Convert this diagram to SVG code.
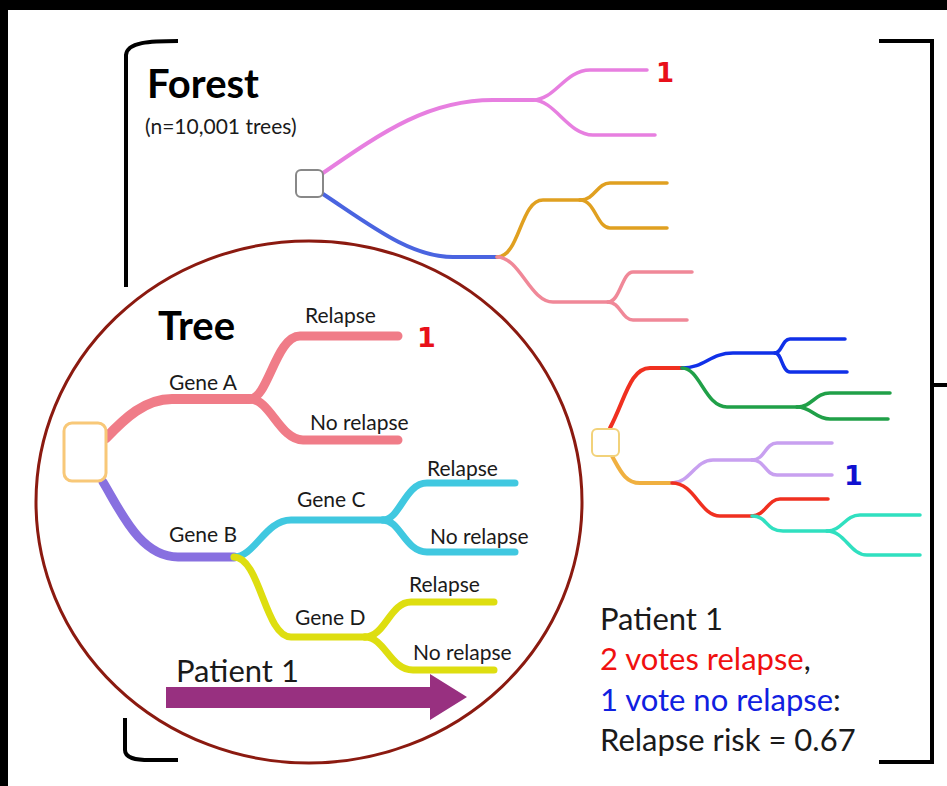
<svg xmlns="http://www.w3.org/2000/svg" width="947" height="786" viewBox="0 0 947 786">
<style>
.br{fill:none;stroke:#000;stroke-width:4;stroke-linecap:butt}
.ln{fill:none;stroke-linecap:round;stroke-linejoin:round}
.f{stroke-width:4}
.fs{stroke-width:3.5}
.t{font-family:Lato,"Open Sans","Liberation Sans",sans-serif;fill:#1a1a1a}
.lab{font-size:21px}
.big{font-size:40px;font-weight:bold;fill:#000}
.num{font-family:"DejaVu Sans",Verdana,sans-serif;font-weight:bold}
.sum{font-size:31px}
</style>
<rect x="0" y="0" width="947" height="786" fill="#000"/>
<rect x="8" y="10" width="939" height="776" fill="#fff"/>
<g id="brackets">
<path class="br" d="M178,41 C150,41 127,42 126,55 L126,287"/>
<path class="br" d="M125,718 L125,750 C125,758 135,760 150,760 L178,760"/>
<path class="br" d="M879,41 L932,41 L932,762 L879,762"/>
<path class="br" d="M932,385 L947,385"/>
</g>
<g id="tree-circle">
<ellipse cx="309" cy="502" rx="273" ry="261" fill="none" stroke="#8B1A10" stroke-width="3"/>
</g>
<g id="connectors">
<path class="ln f" stroke="#E77FE0" d="M323,173 C385,130 430,100 493,100 L533,100"/>
<path class="ln fs" stroke="#E77FE0" d="M533,100 C555,100 565,70 590,70 L647,70"/>
<path class="ln fs" stroke="#E77FE0" d="M533,100 C555,100 568,135 593,135 L655,135"/>
<path class="ln f" stroke="#4A64E0" d="M323,194 C370,225 410,257 453,257 L497,257"/>
<path class="ln fs" stroke="#E0A020" d="M497,257 C520,257 520,200 543,200 L580,200"/>
<path class="ln fs" stroke="#E0A020" d="M580,200 C595,200 597,183 610,183 L667,183"/>
<path class="ln fs" stroke="#E0A020" d="M580,200 C595,200 597,228 610,228 L667,228"/>
<path class="ln fs" stroke="#F08898" d="M497,257 C520,257 530,302 553,302 L608,302"/>
<path class="ln fs" stroke="#F08898" d="M608,302 C620,302 622,272 633,272 L692,272"/>
<path class="ln fs" stroke="#F08898" d="M608,302 C620,302 622,320 633,320 L687,320"/>
<path class="ln" stroke="#F07C88" stroke-width="10" d="M106,438 C125,418 145,399 172,399 L250,399"/>
<path class="ln" stroke="#F07C88" stroke-width="9" d="M250,399 C268,399 276,336 300,336 L398,336"/>
<path class="ln" stroke="#F07C88" stroke-width="9" d="M250,399 C270,399 280,440 303,440 L398,440"/>
<path class="ln" stroke="#8870E0" stroke-width="9" d="M103,482 C120,510 140,557 178,557 L234,557"/>
<path class="ln" stroke="#40C8E0" stroke-width="7" d="M234,557 C255,557 265,520 291,520 L383,520"/>
<path class="ln" stroke="#40C8E0" stroke-width="7" d="M383,520 C400,520 405,483 427,483 L515,483"/>
<path class="ln" stroke="#40C8E0" stroke-width="7" d="M383,520 C400,520 405,552 427,552 L515,552"/>
<path class="ln" stroke="#DEDE10" stroke-width="7" d="M234,557 C260,557 265,637 291,637 L365,637"/>
<path class="ln" stroke="#DEDE10" stroke-width="7" d="M365,637 C385,637 390,602 411,602 L494,602"/>
<path class="ln" stroke="#DEDE10" stroke-width="7" d="M365,637 C385,637 390,670 413,670 L494,670"/>
<path class="ln f" stroke="#F03020" d="M610,428 C625,400 630,368 650,368 L682,368"/>
<path class="ln fs" stroke="#1030E8" d="M682,368 C705,368 710,353 733,353 L775,353"/>
<path class="ln fs" stroke="#1030E8" d="M775,353 C782,353 782,339 790,339 L845,339"/>
<path class="ln fs" stroke="#1030E8" d="M775,353 C782,353 782,372 790,372 L847,372"/>
<path class="ln fs" stroke="#20A048" d="M682,368 C700,368 705,407 727,407 L797,407"/>
<path class="ln fs" stroke="#20A048" d="M797,407 C812,407 815,393 830,393 L890,393"/>
<path class="ln fs" stroke="#20A048" d="M797,407 C812,407 815,419 830,419 L888,419"/>
<path class="ln f" stroke="#F0B040" d="M612,456 C620,470 625,483 640,483 L672,483"/>
<path class="ln fs" stroke="#C8A0F0" d="M672,483 C690,483 695,460 713,460 L752,460"/>
<path class="ln fs" stroke="#C8A0F0" d="M752,460 C765,460 765,443 777,443 L832,443"/>
<path class="ln fs" stroke="#C8A0F0" d="M752,460 C765,460 765,475 777,475 L832,475"/>
<path class="ln fs" stroke="#F03020" d="M672,483 C695,483 700,516 720,516 L752,516"/>
<path class="ln fs" stroke="#F03020" d="M752,516 C765,516 768,499 780,499 L828,499"/>
<path class="ln fs" stroke="#30E0C0" d="M752,516 C768,516 765,531 783,531 L827,531"/>
<path class="ln fs" stroke="#30E0C0" d="M827,531 C842,531 845,515 860,515 L920,515"/>
<path class="ln fs" stroke="#30E0C0" d="M827,531 C845,531 850,555 867,555 L920,555"/>
</g>
<g id="forest-root"><rect x="296" y="170" width="27" height="27" rx="5" fill="#fff" stroke="#888" stroke-width="2"/></g>
<g id="tree-root"><rect x="64" y="423" width="42" height="58" rx="8" fill="#fff" stroke="#F8C878" stroke-width="3"/></g>
<g id="forest2-root"><rect x="592" y="429" width="27" height="27" rx="5" fill="#fff" stroke="#F2D27A" stroke-width="2"/></g>
<g id="arrow">
<polygon points="166,687 430,687 430,674 467,697 430,720 430,708 166,708" fill="#983080"/>
</g>
<g id="labels">
<text class="t big" x="147" y="98">Forest</text>
<text class="t" x="145" y="134" font-size="21">(n=10,001 trees)</text>
<text class="t big" x="158" y="340">Tree</text>
<text class="t lab" x="305" y="323">Relapse</text>
<text class="t lab" x="169" y="390">Gene A</text>
<text class="t lab" x="310" y="430">No relapse</text>
<text class="t lab" x="427" y="476">Relapse</text>
<text class="t lab" x="297" y="507">Gene C</text>
<text class="t lab" x="430" y="544">No relapse</text>
<text class="t lab" x="169" y="542">Gene B</text>
<text class="t lab" x="409" y="592">Relapse</text>
<text class="t lab" x="295" y="625">Gene D</text>
<text class="t lab" x="413" y="660">No relapse</text>
<text class="t sum" x="176" y="682">Patient 1</text>
<text class="num" x="656" y="82" font-size="26" fill="#E8101A">1</text>
<text class="num" x="417" y="347" font-size="27" fill="#E8101A">1</text>
<text class="num" x="844" y="485" font-size="27" fill="#1010D0">1</text>
<text class="t sum" x="600" y="630">Patient 1</text>
<text class="t sum" x="600" y="670"><tspan fill="#F01010">2 votes relapse</tspan>,</text>
<text class="t sum" x="600" y="711"><tspan fill="#1020E0">1 vote no relapse</tspan>:</text>
<text class="t sum" x="600" y="751">Relapse risk = 0.67</text>
</g>
</svg>
